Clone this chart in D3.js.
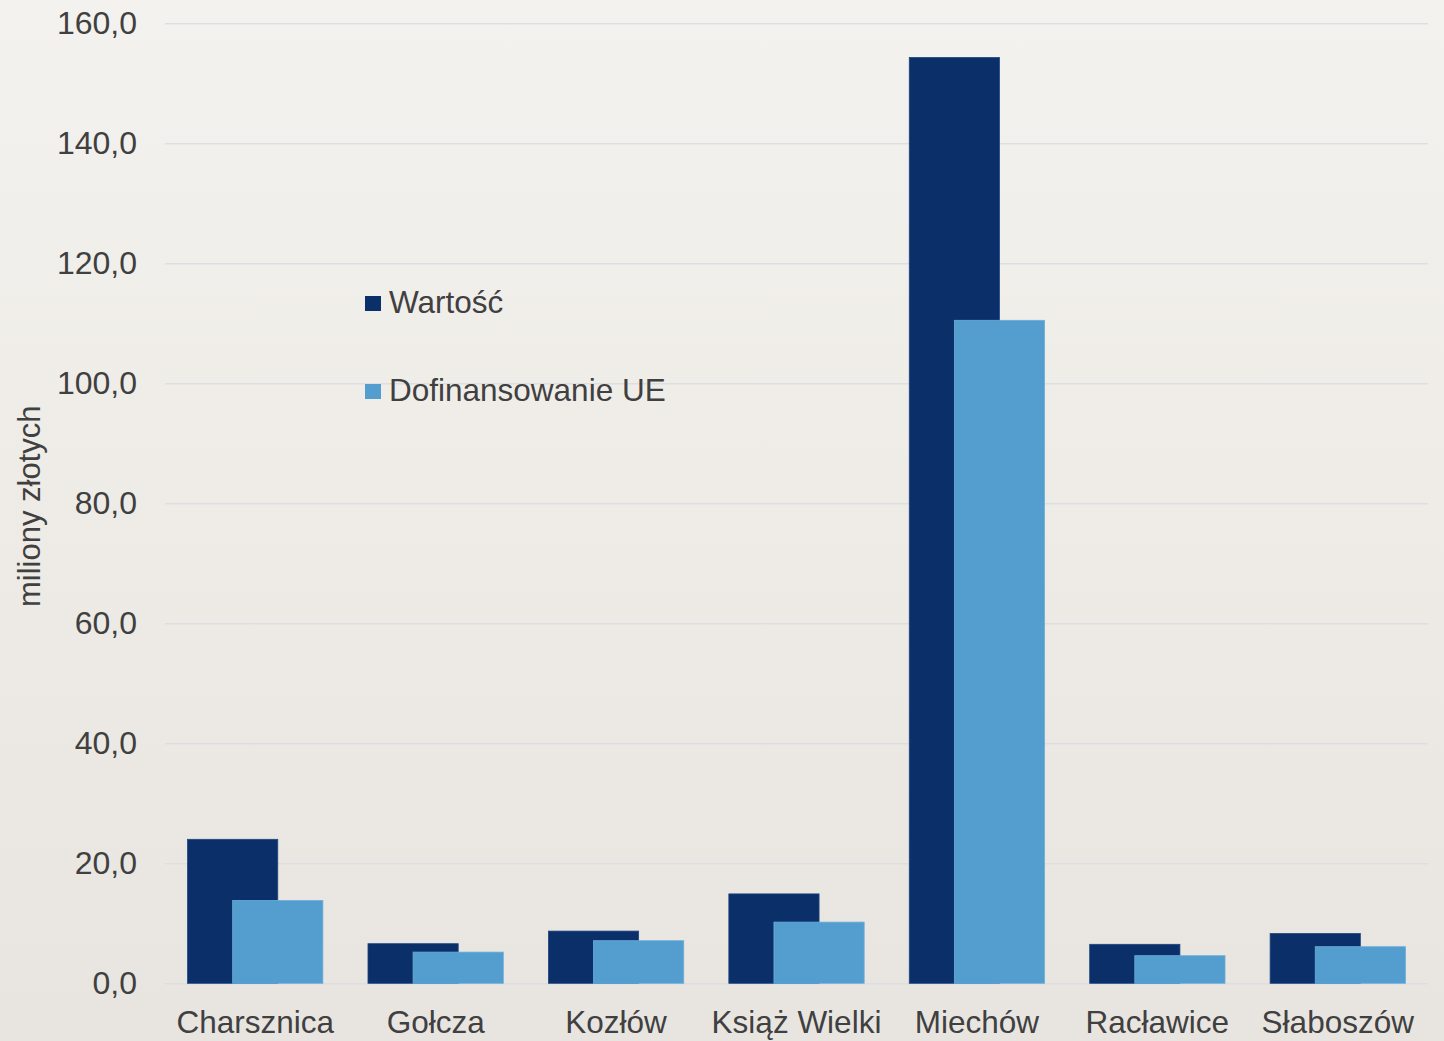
<!DOCTYPE html>
<html>
<head>
<meta charset="utf-8">
<script src="https://cdn.jsdelivr.net/npm/d3@7"></script>
<style>
  html, body { margin: 0; padding: 0; overflow: hidden; }
  body { width: 1444px; height: 1041px; }
  text { font-family: "Liberation Sans", Arial, sans-serif; fill: #404040; }
</style>
</head>
<body>
<div id="container"></div>
<script>
/* CONSTANTS AND GLOBALS */
const width = 1444,
      height = 1041,
      margin = {top: 23.3, right: 16, bottom: 57.7, left: 165};

// DATA (miliony złotych)
const categories = ["Charsznica", "Gołcza", "Kozłów", "Książ Wielki", "Miechów", "Racławice", "Słaboszów"];
const wartosc = [24.0, 6.6, 8.7, 14.9, 154.3, 6.5, 8.3];
const dofinansowanie = [13.8, 5.2, 7.1, 10.2, 110.5, 4.6, 6.1];
const seriesNames = ["Wartość", "Dofinansowanie UE"];
const yTicks = [0, 20, 40, 60, 80, 100, 120, 140, 160];

const colors = ["#0a2f69", "#539dcf"];
const formatTick = d => d3.format(".1f")(d).replace(".", ",");

// SCALES
const xScale = d3.scaleBand()
  .domain(categories)
  .range([margin.left, width - margin.right])
  .paddingInner(0.25)
  .paddingOuter(0.125);

const yScale = d3.scaleLinear()
  .domain([0, 160])
  .range([height - margin.bottom, margin.top]);

// CREATE SVG ELEMENT
const svg = d3.select("#container")
  .append("svg")
  .attr("width", width)
  .attr("height", height);

// paper-ish background
const defs = svg.append("defs");
const grad = defs.append("linearGradient")
  .attr("id", "bg")
  .attr("x1", 0).attr("y1", 0).attr("x2", 0).attr("y2", 1);
grad.append("stop").attr("offset", "0%").attr("stop-color", "#f4f2ee");
grad.append("stop").attr("offset", "100%").attr("stop-color", "#e8e5e0");

svg.append("rect")
  .attr("width", width)
  .attr("height", height)
  .attr("fill", "url(#bg)");

// GRID + Y AXIS
const yAxis = d3.axisLeft(yScale)
  .tickValues(yTicks)
  .tickFormat(formatTick)
  .tickSize(-(width - margin.right - margin.left))
  .tickPadding(28);

svg.append("g")
  .attr("class", "yAxis")
  .attr("transform", `translate(${margin.left}, 0)`)
  .call(yAxis)
  .call(g => g.select(".domain").remove())
  .call(g => g.selectAll(".tick line")
    .attr("stroke", "#dcdfe2")
    .attr("stroke-width", 1.5))
  .call(g => g.selectAll(".tick text")
    .style("font-size", "32px")
    .attr("fill", "#404040"));

// X AXIS (labels only)
const xAxis = d3.axisBottom(xScale).tickSize(0).tickPadding(27);

svg.append("g")
  .attr("class", "xAxis")
  .attr("transform", `translate(0, ${height - margin.bottom})`)
  .call(xAxis)
  .call(g => g.select(".domain").remove())
  .call(g => g.selectAll(".tick text")
    .style("font-size", "31.5px")
    .attr("fill", "#404040"));

// y axis title
svg.append("text")
  .attr("transform", `translate(40, ${yScale(79.5)}) rotate(-90)`)
  .style("text-anchor", "middle")
  .style("font-size", "31px")
  .text("miliony złotych");

// BARS - two series, 50% overlap
const barW = xScale.bandwidth() * 2 / 3;
const series = [wartosc, dofinansowanie];

series.forEach((vals, i) => {
  svg.selectAll(`rect.bar${i}`)
    .data(categories.map((c, j) => ({cat: c, value: vals[j]})))
    .join("rect")
    .attr("class", `bar${i}`)
    .attr("x", d => xScale(d.cat) + i * xScale.bandwidth() / 3)
    .attr("y", d => yScale(d.value))
    .attr("width", barW)
    .attr("height", d => yScale(0) - yScale(d.value))
    .attr("fill", colors[i])
    .attr("stroke", i === 0 ? "#1d4680" : "#6aaedb")
    .attr("stroke-width", 0.8);
});

// LEGEND
const legend = svg.append("g")
  .attr("transform", "translate(365, 296)");

legend.selectAll("g.item")
  .data(seriesNames)
  .join("g")
  .attr("class", "item")
  .attr("transform", (d, i) => `translate(0, ${i * 88})`)
  .each(function(d, i) {
    const g = d3.select(this);
    g.append("rect")
      .attr("width", 16)
      .attr("height", 15)
      .attr("fill", colors[i]);
    g.append("text")
      .attr("x", 24)
      .attr("y", 17)
      .style("font-size", "31.5px")
      .text(d);
  });
</script>
</body>
</html>
